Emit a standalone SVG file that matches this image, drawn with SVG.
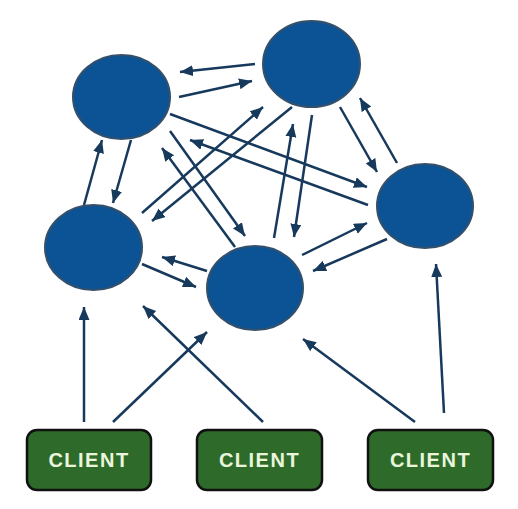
<svg xmlns="http://www.w3.org/2000/svg" width="518" height="509" viewBox="0 0 518 509">
<style>
.node{fill:#0b5394;stroke:#34506b;stroke-width:2}
.client rect{fill:#2e6b2a;stroke:#111;stroke-width:2.5}
.client text{font-family:"Liberation Sans",Arial,sans-serif;font-weight:bold;font-size:20px;letter-spacing:1.5px;fill:#eaf6dc;text-anchor:middle}
#connectors line{stroke:#17395c;stroke-width:2.5;marker-end:url(#ah)}
</style>
<defs>
<marker id="ah" markerUnits="userSpaceOnUse" markerWidth="14" markerHeight="12" refX="13" refY="5.5" orient="auto">
<path d="M0,0 L13,5.5 L0,11 z" fill="#17395c"/>
</marker>
</defs>
<rect width="518" height="509" fill="#fff"/>
<g id="connectors">
<line x1="255" y1="64" x2="180" y2="72"/>
<line x1="179" y1="97" x2="252" y2="81"/>
<line x1="84" y1="205" x2="102" y2="140"/>
<line x1="131" y1="140" x2="113" y2="203"/>
<line x1="170" y1="114" x2="367" y2="187"/>
<line x1="368" y1="205" x2="190" y2="140"/>
<line x1="170" y1="131" x2="245" y2="236"/>
<line x1="235" y1="247" x2="162" y2="148"/>
<line x1="142" y1="213" x2="263" y2="107"/>
<line x1="292" y1="107" x2="152" y2="221"/>
<line x1="274" y1="238" x2="293" y2="124"/>
<line x1="312" y1="115" x2="294" y2="237"/>
<line x1="340" y1="107" x2="377" y2="172"/>
<line x1="397" y1="163" x2="360" y2="98"/>
<line x1="302" y1="255" x2="367" y2="223"/>
<line x1="387" y1="239" x2="313" y2="271"/>
<line x1="207" y1="271" x2="162" y2="257"/>
<line x1="142" y1="264" x2="196" y2="287"/>
<line x1="84" y1="422" x2="84" y2="307"/>
<line x1="113" y1="422" x2="207" y2="332"/>
<line x1="263" y1="422" x2="143" y2="306"/>
<line x1="415" y1="422" x2="303" y2="339"/>
<line x1="444" y1="413" x2="436" y2="264"/>
</g>
<g id="nodeA"><ellipse class="node" cx="121.5" cy="97" rx="48.5" ry="42"/></g>
<g id="nodeB"><ellipse class="node" cx="311.5" cy="64" rx="48.5" ry="43"/></g>
<g id="nodeC"><ellipse class="node" cx="425" cy="206" rx="48" ry="42"/></g>
<g id="nodeD"><ellipse class="node" cx="93.5" cy="247.5" rx="48.5" ry="42.5"/></g>
<g id="nodeE"><ellipse class="node" cx="255" cy="288" rx="48" ry="42"/></g>
<g id="client1" class="client"><rect x="27" y="430" width="124" height="60" rx="10"/><text x="89" y="467">CLIENT</text></g>
<g id="client2" class="client"><rect x="197" y="430" width="125" height="60" rx="10"/><text x="259.5" y="467">CLIENT</text></g>
<g id="client3" class="client"><rect x="368" y="430" width="125" height="60" rx="10"/><text x="430.5" y="467">CLIENT</text></g>
</svg>
